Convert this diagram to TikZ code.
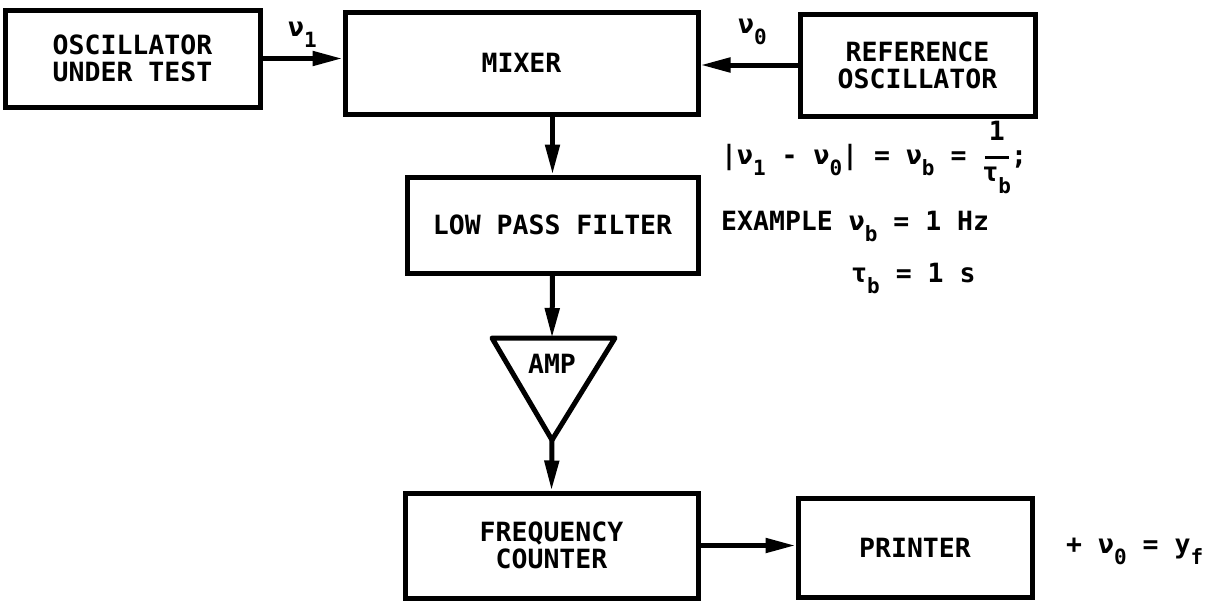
\documentclass[tikz,border=0pt]{standalone}
\usepackage{fontspec}
\setmainfont{DejaVu Sans Mono}[BoldFont={DejaVu Sans Mono Bold}]
\usetikzlibrary{arrows.meta}
\newcommand\lowsub[1]{\raisebox{-0.45em}{\fontsize{21}{21}\selectfont #1}}
\tikzset{
  blk/.style={draw, line width=5pt, rectangle, align=center, inner sep=0pt,
    font=\fontsize{26.5}{27}\selectfont\bfseries},
  arr/.style={line width=5pt, -{Triangle[length=30pt,width=14pt]}},
  lbl/.style={inner sep=0pt, font=\fontsize{26.5}{27}\selectfont\bfseries},
}
\begin{document}
\begin{tikzpicture}[x=1pt,y=-1pt]
\useasboundingbox (0,0) rectangle (1224,600);
% blocks
\node[blk, minimum width=255pt, minimum height=97pt] (out) at (132.5,58.5) {OSCILLATOR\\UNDER TEST};
\node[blk, minimum width=353pt, minimum height=102pt] (mix) at (521.5,63) {MIXER};
\node[blk, minimum width=235pt, minimum height=102pt] (ref) at (917.5,65) {REFERENCE\\OSCILLATOR};
\node[blk, minimum width=291pt, minimum height=96pt] (lpf) at (552.5,225) {LOW PASS FILTER};
\node[blk, minimum width=293pt, minimum height=105pt] (fc) at (551.5,545.5) {FREQUENCY\\COUNTER};
\node[blk, minimum width=234pt, minimum height=99pt] (prn) at (915,547.5) {PRINTER};
% amplifier
\coordinate (ampL) at (492,338);
\coordinate (ampR) at (615,338);
\coordinate (ampapex) at (552,440);
\coordinate (amptop) at (552,338);
\draw[line width=5pt, line join=round] (ampL) -- (ampR) -- (ampapex) -- cycle;
\node[lbl] (amp) at (552,364) {AMP};
% connectors
\draw[arr] (out.east) -- (out.east -| mix.west);
\draw[arr] (ref.west) -- (ref.west -| mix.east);
\draw[arr] (mix.south -| lpf.north) -- (lpf.north);
\draw[arr] (lpf.south) -- (amptop);
\draw[arr] (ampapex) -- (fc.north);
\draw[arr] (fc.east) -- (fc.east -| prn.west);
% signal labels
\node[lbl, anchor=base west] (nu1) at (288,36) {ν\lowsub{1}};
\node[lbl, anchor=base west] (nu0) at (738,33) {ν\lowsub{0}};
% equations
\node[lbl, anchor=base west] (eq1) at (721,164) {|ν\lowsub{1} - ν\lowsub{0}| = ν\lowsub{b} = \begin{tabular}[c]{@{}c@{}}1\\[-9pt]\rule{24pt}{3pt}\\[-4pt]τ\lowsub{b}\end{tabular};};
\node[lbl, anchor=base west] (eq2) at (721,230) {EXAMPLE ν\lowsub{b} = 1 Hz};
\node[lbl, anchor=base west] (eq3) at (851,282) {τ\lowsub{b} = 1 s};
\node[lbl, anchor=base west] (eq4) at (1066,553) {+ ν\lowsub{0} = y\lowsub{f}};
\end{tikzpicture}
\end{document}
